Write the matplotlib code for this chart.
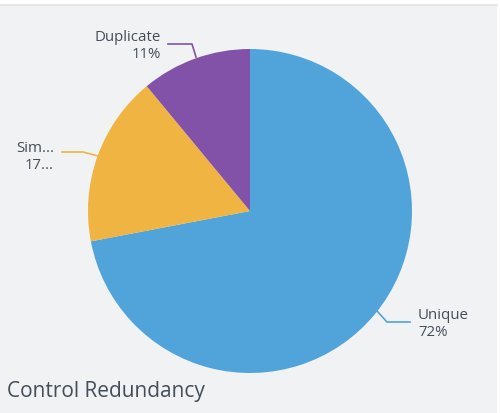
import matplotlib
matplotlib.use("Agg")
import matplotlib.pyplot as plt
from matplotlib.patches import Rectangle

categories = ["Unique", "Similar", "Duplicate"]
values = [72, 17, 11]
label_texts = ["Unique\n72%", "Sim...\n17...", "Duplicate\n11%"]
colors = ["#51a4da", "#efb441", "#8252a9"]
title = "Control Redundancy"

W, H = 500, 414
fig = plt.figure(figsize=(W / 100, H / 100), dpi=100)
fig.patch.set_facecolor("white")
ax = fig.add_axes([0, 0, 1, 1])
ax.set_facecolor("white")

def Y(y):
    return H - y

# background panel
ax.add_patch(Rectangle((0, 0), 497, Y(6), facecolor="#f1f2f4", edgecolor="none", zorder=0))
ax.plot([0, 497], [Y(5.5), Y(5.5)], color="#e3e4e6", lw=1.2, zorder=1)

ax.pie(values, colors=colors, startangle=90, counterclock=False,
       center=(250, Y(212)), radius=162, frame=True,
       wedgeprops=dict(linewidth=0))

ax.set_xlim(0, W)
ax.set_ylim(0, H)
ax.set_aspect("auto")
ax.axis("off")

tc = "#434e5a"
fs = 10.8
# leader lines
ax.plot([377, 387, 410], [Y(312), Y(323), Y(323)], color=colors[0], lw=1.2)
ax.plot([98, 83, 62], [Y(157), Y(153), Y(153)], color=colors[1], lw=1.2)
ax.plot([196, 192, 168], [Y(58), Y(45), Y(45)], color=colors[2], lw=1.2)

ax.text(418, Y(324), label_texts[0], ha="left", va="center", fontsize=fs,
        color=tc, family="Open Sans", linespacing=1.1)
ax.text(54, Y(157), label_texts[1], ha="right", va="center", fontsize=fs,
        color=tc, family="Open Sans", linespacing=1.1, multialignment="right")
ax.text(161, Y(46), label_texts[2], ha="right", va="center", fontsize=fs,
        color=tc, family="Open Sans", linespacing=1.1, multialignment="right")

ax.text(7, Y(392), title, ha="left", va="center", fontsize=15,
        color=tc, family="Open Sans")

fig.savefig("out.png", dpi=100, facecolor=fig.get_facecolor())
